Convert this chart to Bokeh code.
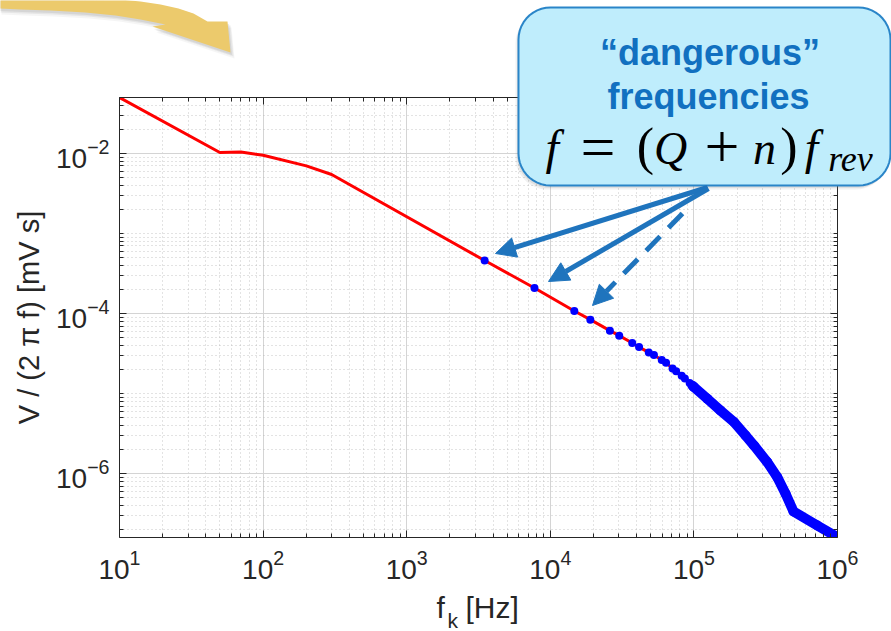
import numpy as np
from bokeh.plotting import figure
from bokeh.layouts import column
from bokeh.models import (Range1d, FixedTicker, LogAxis, Label, Arrow, NormalHead,
                          CustomJSTickFormatter)
from bokeh.embed import file_html
from bokeh.resources import INLINE

# ---------------- data ----------------
# low-frequency part of the red curve: f [Hz], V/(2 pi f) [mV s]
red_low_f = [10, 50, 70, 100, 200, 300]
red_low_v = [5.0e-2, 1.03e-2, 1.04e-2, 9.5e-3, 7.0e-3, 5.46e-3]

# discrete "dangerous" frequencies (blue dots)
blue_f = [3490, 7760, 14700, 19000, 26000, 30200, 37200, 41500, 48500, 52700,
          59700, 64000, 71000, 75200, 82200, 86500, 93400, 97700]
blue_v = [4.60e-4, 2.09e-4, 1.08e-4, 8.41e-5, 6.13e-5, 5.31e-5, 4.29e-5, 3.82e-5,
          3.28e-5, 3.04e-5, 2.64e-5, 2.43e-5, 2.07e-5, 1.91e-5, 1.68e-5, 1.55e-5,
          1.36e-5, 1.26e-5]

# dense part where the blue dots merge into a band
band_f = [1.0e5, 1.24e5, 1.53e5, 1.90e5, 2.29e5, 2.62e5, 3.24e5, 3.81e5, 4.35e5,
          4.94e5, 7.23e5, 1.0e6]
band_v = [1.21e-5, 8.66e-6, 6.18e-6, 4.42e-6, 3.01e-6, 2.26e-6, 1.40e-6, 9.07e-7,
          5.62e-7, 3.38e-7, 2.26e-7, 1.61e-7]

x_major = [1e1, 1e2, 1e3, 1e4, 1e5, 1e6]
y_major = [1e-6, 1e-4, 1e-2]

y_title = "V / (2 π f) [mV s]"
callout_lines = ["“dangerous”", "frequencies"]

# ---------------- layout constants (pixels on the 891x631 canvas) ----------------
W, H = 891, 631
FL, FT, FR, FB = 119, 97, 837, 537
AX = "#262626"
BASE_SHIFT = 0.33  # label anchor correction (fraction of font size)

# ======================= main chart =======================
p = figure(width=W, height=H, x_axis_type="log", y_axis_type="log",
           x_range=Range1d(10, 1e6), y_range=Range1d(1.6e-7, 5.0e-2),
           output_backend="svg", toolbar_location=None,
           min_border_left=FL, min_border_right=W - FR,
           min_border_top=FT, min_border_bottom=H - FB)
p.background_fill_color = "white"
p.border_fill_color = "white"
p.outline_line_color = None
p.frame_align = False

x_minor = [m * 10.0 ** k for k in range(1, 6) for m in range(2, 10)]
y_minor = [m * 10.0 ** k for k in range(-7, -1) for m in range(1, 10)]
y_minor = [v for v in y_minor if 1.6e-7 <= v <= 5.0e-2
           and not any(abs(v - t) / t < 1e-9 for t in y_major)]

xt = FixedTicker(ticks=x_major, minor_ticks=x_minor)
yt = FixedTicker(ticks=y_major, minor_ticks=y_minor)


def style_axis(ax, ticker, labels=True):
    ax.ticker = ticker
    ax.axis_line_color = AX
    ax.axis_line_width = 1
    ax.major_tick_line_color = AX
    ax.minor_tick_line_color = AX
    ax.major_tick_in = 7
    ax.major_tick_out = 0
    ax.minor_tick_in = 4
    ax.minor_tick_out = 0
    ax.major_label_text_font = "Liberation Sans"
    ax.major_label_text_font_size = "28px"
    ax.major_label_text_color = AX
    if not labels:
        ax.formatter = CustomJSTickFormatter(code="return ''")


style_axis(p.xaxis[0], xt)
style_axis(p.yaxis[0], yt)
p.xaxis[0].major_label_standoff = 12
p.yaxis[0].major_label_standoff = 10
p.yaxis[0].axis_label = y_title
p.yaxis[0].axis_label_text_font = "Liberation Sans"
p.yaxis[0].axis_label_text_font_style = "normal"
p.yaxis[0].axis_label_text_font_size = "29px"
p.yaxis[0].axis_label_text_color = AX
p.yaxis[0].axis_label_standoff = 8

top_ax = LogAxis()
right_ax = LogAxis()
style_axis(top_ax, xt, labels=False)
style_axis(right_ax, yt, labels=False)
p.add_layout(top_ax, "above")
p.add_layout(right_ax, "right")

for g, t in ((p.xgrid[0], xt), (p.ygrid[0], yt)):
    g.ticker = t
    g.grid_line_color = "#d4d4d4"
    g.grid_line_width = 1
    g.minor_grid_line_color = "#b4b4b4"
    g.minor_grid_line_alpha = 0.75
    g.minor_grid_line_dash = "1 3"

red_f = red_low_f + blue_f + band_f
red_v = red_low_v + blue_v + band_v
p.line(red_f, red_v, line_color="#ff0000", line_width=3)

p.line([blue_f[-1]] + band_f, [blue_v[-1]] + band_v, line_color="#0000ff",
       line_width=10, line_cap="round", line_join="round")
p.scatter(band_f, band_v, size=10, fill_color="#0000ff", line_color=None)
p.scatter(blue_f, blue_v, size=8, fill_color="#0000ff", line_color=None)

# ======================= overlay for slide decorations =======================
q = figure(width=W, height=H, x_range=Range1d(0, W), y_range=Range1d(H, 0),
           output_backend="svg", toolbar_location=None, min_border=0,
           x_axis_location=None, y_axis_location=None)
q.grid.visible = False
q.outline_line_color = None
q.background_fill_alpha = 0
q.border_fill_alpha = 0
q.frame_align = False
q.styles = {"margin-top": f"-{H}px"}


def label(txt, X, Y, fs, font="Liberation Sans", style="normal", color=AX, align="left"):
    q.add_layout(Label(x=X, y=Y - BASE_SHIFT * fs, text=txt, text_align=align,
                       text_baseline="alphabetic", text_font=font,
                       text_font_style=style, text_font_size=f"{fs}px",
                       text_color=color))


# x-axis title  f_k [Hz]
label("f", 436, 617, 30)
label("k", 447, 627, 21)
label("[Hz]", 465, 617, 30)

# yellow curved arrow with a soft shadow
yel_x = [-3, 60, 110, 140, 160, 178, 193, 207, 227, 230, 152, 165, 140, 115, 85, 50, 20, -3]
yel_y = [-3, -3, -2, 1, 4, 8, 13, 21, 21, 52, 26, 24, 19, 15, 12, 10, 9, 8]
for dx, dy, a in ((4, 6, 0.08), (3, 4, 0.12), (1.5, 2.5, 0.15)):
    q.patch([x + dx for x in yel_x], [y + dy for y in yel_y],
            fill_color="#7a7a7a", fill_alpha=a, line_color=None)
q.patch(yel_x, yel_y, fill_color="#ecca6c", line_color=None)

# callout box with rounded corners
bl, br, bt, bb, r = 518, 890, 7, 185, 32
cx_, cy_ = [], []
for ccx, ccy, a0 in ((br - r, bt + r, -90), (br - r, bb - r, 0),
                     (bl + r, bb - r, 90), (bl + r, bt + r, 180)):
    for a in np.linspace(a0, a0 + 90, 12):
        cx_.append(ccx + r * np.cos(np.radians(a)))
        cy_.append(ccy + r * np.sin(np.radians(a)))
for dx, dy, a in ((-3, 4, 0.10), (-1.5, 2.5, 0.15)):
    q.patch([x + dx for x in cx_], [y + dy for y in cy_],
            fill_color="#7a7a7a", fill_alpha=a, line_color=None)
q.patch(cx_, cy_, fill_color="#bfedfc", line_color="#2a85c8", line_width=2)

BLUE_T = "#1170c0"
label(callout_lines[0], 709.5, 64, 36, style="bold", color=BLUE_T, align="center")
label(callout_lines[1], 708, 108, 36, style="bold", color=BLUE_T, align="center")

formula = [("f", 551.7, 163, 48, "italic"), ("=", 597.5, 167, 62, "normal"),
           ("(", 645, 163, 52, "normal"), ("Q", 670, 163, 46, "italic"),
           ("+", 721.5, 167, 62, "normal"), ("n", 764, 163, 46, "italic"),
           (")", 788.5, 163, 52, "normal"), ("f", 811, 163, 48, "italic"),
           ("rev", 850, 170, 36, "italic")]
for txt, X, Y, fs, st in formula:
    label(txt, X, Y, fs, font="Liberation Serif", style=st, color="black", align="center")

# pointer arrows
ARC = "#1f74bd"
for (x0, y0, x1, y1, dash) in ((707, 187, 495, 253, "solid"),
                               (708, 188, 548, 281, "solid"),
                               (682, 213, 592, 305, "20 12")):
    q.add_layout(Arrow(x_start=x0, y_start=y0, x_end=x1, y_end=y1,
                       line_color=ARC, line_width=5, line_dash=dash,
                       end=NormalHead(size=20, fill_color=ARC, line_color=ARC,
                                      line_width=1)))

layout = column(p, q, spacing=0)
open("out.html", "w").write(file_html(layout, INLINE))
